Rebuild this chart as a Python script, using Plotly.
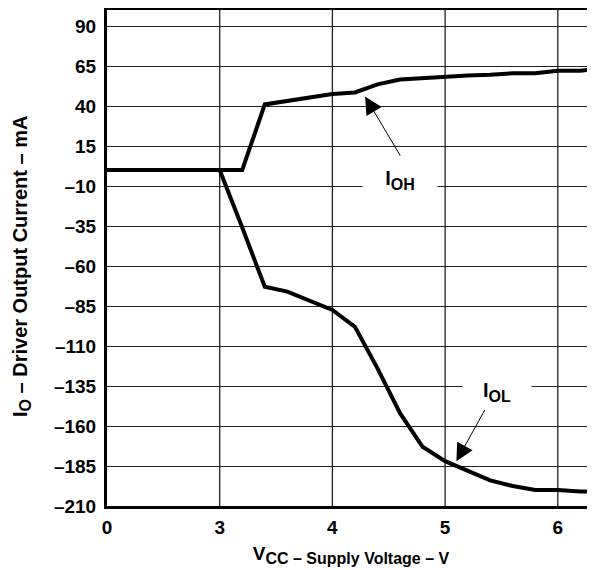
import plotly.graph_objects as go

# Supply voltage (V) sample points; axis is broken between 0 and 3 V
vcc = [0, 3.0, 3.2, 3.4, 3.6, 3.8, 4.0, 4.2, 4.4, 4.6, 4.8, 5.0, 5.2, 5.4, 5.6, 5.8, 6.0, 6.2, 6.4]
# High-level output current I_OH (mA)
i_oh = [0, 0, 0, 41, 43, 45, 47.5, 48.5, 53.5, 56.5, 57.5, 58.5, 59, 59.5, 60.5, 60.5, 62, 62, 63.5]
# Low-level output current I_OL (mA)
i_ol = [0, 0, -36, -73, -76, -82, -87.5, -98, -124, -152, -173, -182, -188, -194, -197.5, -200, -200, -201, -201]

x_tick_vals = [0, 3, 4, 5, 6]
x_tick_text = ["0", "3", "4", "5", "6"]
y_tick_vals = list(range(-210, 91, 25))


def to_axis(v):
    # broken axis: the 0..3 V span is compressed into one unit
    return 2 + v / 3 if v < 3 else v


xs = [to_axis(v) for v in vcc]

FONT = "Liberation Sans, Arial, sans-serif"
fig = go.Figure()
for ys in (i_oh, i_ol):
    fig.add_trace(go.Scatter(x=xs, y=ys, mode="lines",
                             line=dict(color="black", width=4),
                             showlegend=False, hoverinfo="skip"))

# vertical gridlines (none at the broken left edge)
for xv in x_tick_vals[1:]:
    fig.add_shape(type="line", xref="x", yref="paper", x0=xv, x1=xv, y0=0, y1=1,
                  line=dict(color="#222", width=1.3), layer="below")

annos = []
# y-axis title (placed as rotated annotation for exact positioning)
annos.append(dict(x=-0.175, y=0.483, xref="paper", yref="paper", showarrow=False,
                  textangle=-90, xanchor="center", yanchor="middle", borderpad=0,
                  text="<b>I<sub><span style='font-size:16px'>O</span></sub> – Driver Output Current – mA</b>",
                  font=dict(family=FONT, size=20, color="black")))
# I_OH label + arrow
annos.append(dict(x=4.6, y=-6, xref="x", yref="y", showarrow=False,
                  text="<b>I<sub><span style='font-size:16px'>OH</span></sub></b>",
                  font=dict(family=FONT, size=20, color="black"),
                  bgcolor="white", width=72, height=28))
annos.append(dict(x=4.29, y=46, ax=4.61, ay=8, xref="x", yref="y", axref="x", ayref="y",
                  text="", showarrow=True, arrowhead=2, arrowsize=3.5, arrowwidth=1,
                  arrowcolor="black"))
# I_OL label + arrow
annos.append(dict(x=5.46, y=-139, xref="x", yref="y", showarrow=False,
                  text="<b>I<sub><span style='font-size:16px'>OL</span></sub></b>",
                  font=dict(family=FONT, size=20, color="black"),
                  bgcolor="white", width=66, height=28))
annos.append(dict(x=5.10, y=-182, ax=5.36, ay=-149, xref="x", yref="y", axref="x", ayref="y",
                  text="", showarrow=True, arrowhead=2, arrowsize=3.5, arrowwidth=1,
                  arrowcolor="black"))

fig.update_layout(
    width=587, height=562,
    margin=dict(l=99, r=0, t=2, b=64),
    plot_bgcolor="white", paper_bgcolor="white",
    font=dict(family=FONT, size=19, color="black"),
    annotations=annos,
    xaxis=dict(range=[2.0, 6.33], tickvals=[to_axis(v) for v in x_tick_vals],
               ticktext=[f"<b>{t}</b>" for t in x_tick_text],
               tickfont=dict(size=19),
               showgrid=False, zeroline=False, showline=True, linecolor="black",
               linewidth=3, mirror=True, ticks="", ticklabelstandoff=2,
               title=dict(text="<b>V<sub><span style='font-size:16px'>CC – Supply Voltage – V</span></sub></b>",
                          font=dict(size=19), standoff=10)),
    yaxis=dict(range=[-210, 100], tickvals=y_tick_vals,
               ticktext=[f"<b>{v}</b>".replace("-", "–") for v in y_tick_vals],
               tickfont=dict(size=19),
               showgrid=True, gridcolor="#222", gridwidth=1.3, zeroline=False,
               showline=True, linecolor="black", linewidth=3, ticks="",
               ticklabelstandoff=4),
)

fig.write_html("out.html")
